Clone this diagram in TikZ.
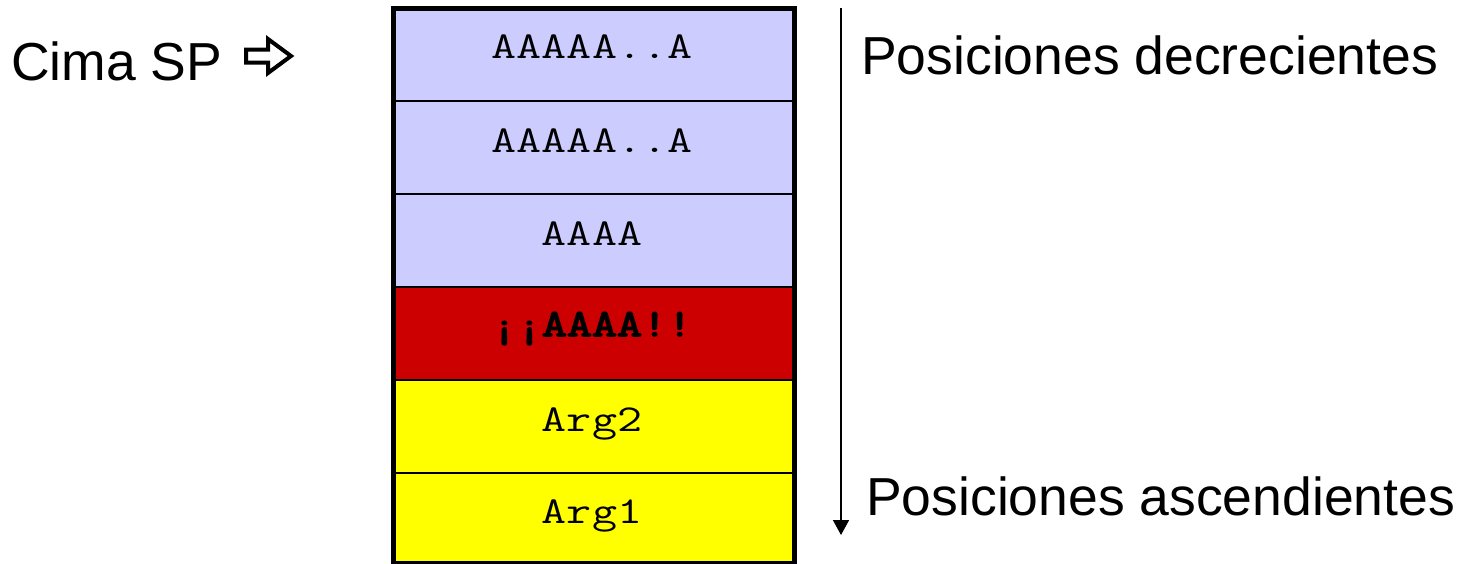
\documentclass[tikz,border=0pt]{standalone}
\usepackage{fontspec}
\setmainfont{Liberation Sans}
\newfontfamily\cour[FakeStretch=1.28]{Latin Modern Mono}
\newfontfamily\courbold[FakeStretch=1.28,FakeBold=4]{Latin Modern Mono}
\usetikzlibrary{arrows.meta}
\definecolor{lav}{HTML}{CCCCFF}
\definecolor{redc}{HTML}{CC0000}
\definecolor{yel}{HTML}{FFFF00}
\begin{document}
\begin{tikzpicture}[x=1pt,y=-1pt,
  row/.style={draw=black, line width=2pt, rectangle, inner sep=0pt, minimum width=399pt, anchor=north west},
  mono/.style={font=\fontsize{38}{46}\selectfont\cour, inner sep=0pt, anchor=base},
  lab/.style={font=\fontsize{53.5}{60}\selectfont, inner sep=0pt, anchor=base west}]
\useasboundingbox (0,0) rectangle (1465,563);
\node[row, fill=lav, minimum height=92pt] (r1) at (393,8) {};
\node[row, fill=lav, minimum height=93pt] (r2) at (393,100) {};
\node[row, fill=lav, minimum height=93pt] (r3) at (393,193) {};
\node[row, fill=redc, minimum height=93pt] (r4) at (393,286) {};
\node[row, fill=yel, minimum height=93pt] (r5) at (393,379) {};
\node[row, fill=yel, minimum height=89pt] (r6) at (393,472) {};
\draw[line width=5pt] (r1.north west) rectangle (r6.south east);
\node[mono] (t1) at (592,58) {AAAAA..A};
\node[mono] (t2) at (592,152) {AAAAA..A};
\node[mono] (t3) at (592,245) {AAAA};
\node[mono, font=\fontsize{38}{46}\selectfont\courbold] (t4) at (592,336) {¡¡AAAA!!};
\node[mono] (t5) at (592,431) {Arg2};
\node[mono] (t6) at (592,523) {Arg1};
\node[lab] (cima) at (11,80) {Cima SP};
\draw[line width=4pt, line join=miter] (246,49.5) -- (268,49.5) -- (268,39) -- (291,56) -- (268,73) -- (268,62.5) -- (246,62.5) -- cycle;
\coordinate (vtop) at (841,8);
\coordinate (vbot) at (841,535);
\draw[line width=1.6pt, -{Triangle[length=15pt,width=16pt]}] (vtop) -- (vbot);
\node[lab] (dec) at (861,74) {Posiciones decrecientes};
\node[lab] (asc) at (866,515) {Posiciones ascendientes};
\end{tikzpicture}
\end{document}
